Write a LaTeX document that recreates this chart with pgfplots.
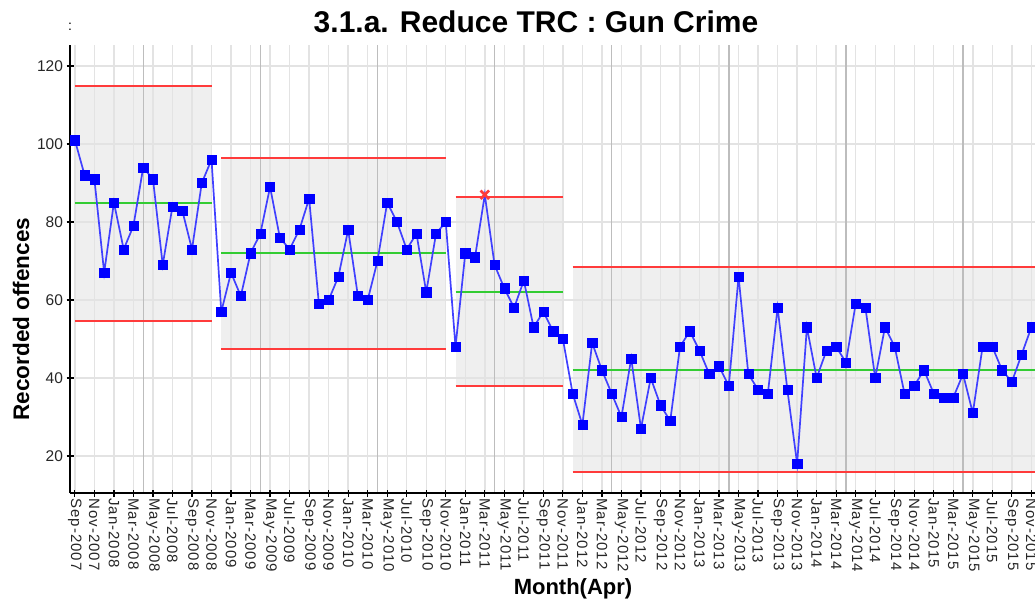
\documentclass[border=0pt]{standalone}
\usepackage{pgfplots}
\usepackage{pgfplotstable}
\pgfplotsset{compat=1.18}
\usepackage{fontspec}
\setmainfont{Liberation Sans}
\newfontfamily\tickfont[LetterSpace=7]{Liberation Sans}
\definecolor{ptblue}{HTML}{0000FF}
\definecolor{lnblue}{HTML}{4040FF}
\definecolor{uclred}{HTML}{FF3B3B}
\definecolor{meangreen}{HTML}{33CC33}
\definecolor{shade}{HTML}{EFEFEF}
\definecolor{lgrid}{HTML}{E3E3E3}
\definecolor{dgrid}{HTML}{BDBDBD}
\pgfplotstableread{
x y
0 101
1 92
2 91
3 67
4 85
5 73
6 79
7 94
8 91
9 69
10 84
11 83
12 73
13 90
14 96
15 57
16 67
17 61
18 72
19 77
20 89
21 76
22 73
23 78
24 86
25 59
26 60
27 66
28 78
29 61
30 60
31 70
32 85
33 80
34 73
35 77
36 62
37 77
38 80
39 48
40 72
41 71
42 87
43 69
44 63
45 58
46 65
47 53
48 57
49 52
50 50
51 36
52 28
53 49
54 42
55 36
56 30
57 45
58 27
59 40
60 33
61 29
62 48
63 52
64 47
65 41
66 43
67 38
68 66
69 41
70 37
71 36
72 58
73 37
74 18
75 53
76 40
77 47
78 48
79 44
80 59
81 58
82 40
83 53
84 48
85 36
86 38
87 42
88 36
89 35
90 35
91 41
92 31
93 48
94 48
95 42
96 39
97 46
98 53
}\gun
\begin{document}
\begin{tikzpicture}
\begin{axis}[
  at={(70pt,107pt)}, anchor=south west, scale only axis,
  width=976pt, height=448pt,
  xmin=-0.5, xmax=99.5, ymin=10.5, ymax=125.4,
  set layers=standard,
  axis lines=left,
  axis line style={-, line width=1.4pt, black},
  tick align=center, major tick length=7pt,
  tick style={black, line width=1.2pt},
  xtick={0,2,...,98},
  xticklabels={Sep-2007,Nov-2007,Jan-2008,Mar-2008,May-2008,Jul-2008,Sep-2008,Nov-2008,
    Jan-2009,Mar-2009,May-2009,Jul-2009,Sep-2009,Nov-2009,
    Jan-2010,Mar-2010,May-2010,Jul-2010,Sep-2010,Nov-2010,
    Jan-2011,Mar-2011,May-2011,Jul-2011,Sep-2011,Nov-2011,
    Jan-2012,Mar-2012,May-2012,Jul-2012,Sep-2012,Nov-2012,
    Jan-2013,Mar-2013,May-2013,Jul-2013,Sep-2013,Nov-2013,
    Jan-2014,Mar-2014,May-2014,Jul-2014,Sep-2014,Nov-2014,
    Jan-2015,Mar-2015,May-2015,Jul-2015,Sep-2015,Nov-2015},
  xticklabel style={rotate=-90, anchor=west, font=\tickfont\fontsize{15}{17}\selectfont, text=black!85, inner sep=1.5pt},
  ytick={20,40,...,120},
  yticklabel style={font=\fontsize{15.5}{18}\selectfont, text=black!85},
  /pgf/number format/assume math mode=true,
  grid=major,
  major grid style={draw=lgrid, line width=1.4pt},
  extra x ticks={7,19,31,43,55,67,79,91},
  extra x tick labels={},
  extra x tick style={grid=major, major grid style={draw=dgrid, line width=1.4pt}, major tick length=0pt},
]
% shaded control bands
\addplot[on layer=axis background, fill=shade, draw=none] coordinates {(0,54.6) (14,54.6) (14,115) (0,115)} -- cycle;
\addplot[on layer=axis background, fill=shade, draw=none] coordinates {(15,47.4) (38,47.4) (38,96.3) (15,96.3)} -- cycle;
\addplot[on layer=axis background, fill=shade, draw=none] coordinates {(39,37.9) (50,37.9) (50,86.4) (39,86.4)} -- cycle;
\addplot[on layer=axis background, fill=shade, draw=none] coordinates {(51,15.8) (99.5,15.8) (99.5,68.5) (51,68.5)} -- cycle;
% control limits
\addplot[uclred, line width=2pt] coordinates {(0,115) (14,115)};
\addplot[uclred, line width=2pt] coordinates {(0,54.6) (14,54.6)};
\addplot[uclred, line width=2pt] coordinates {(15,96.3) (38,96.3)};
\addplot[uclred, line width=2pt] coordinates {(15,47.4) (38,47.4)};
\addplot[uclred, line width=2pt] coordinates {(39,86.4) (50,86.4)};
\addplot[uclred, line width=2pt] coordinates {(39,37.9) (50,37.9)};
\addplot[uclred, line width=2pt] coordinates {(51,68.5) (99.5,68.5)};
\addplot[uclred, line width=2pt] coordinates {(51,15.8) (99.5,15.8)};
% means
\addplot[meangreen, line width=2pt] coordinates {(0,84.8) (14,84.8)};
\addplot[meangreen, line width=2pt] coordinates {(15,72.0) (38,72.0)};
\addplot[meangreen, line width=2pt] coordinates {(39,62.1) (50,62.1)};
\addplot[meangreen, line width=2pt] coordinates {(51,42.0) (99.5,42.0)};
% data
\addplot[lnblue, line width=1.7pt, mark=none] table[x=x,y=y] {\gun};
\addplot[only marks, mark=square*, mark size=4.6pt, mark options={fill=ptblue, draw=ptblue}, skip coords between index={42}{43}] table[x=x,y=y] {\gun};
\addplot[only marks, mark=x, mark size=6pt, mark options={draw=uclred, line width=2.6pt}] coordinates {(42,87)};
\end{axis}
\node at (70pt,573pt) {\fontsize{14}{16}\selectfont :};
\node at (536pt,578pt) {\fontsize{30}{34}\selectfont\bfseries 3.1.a. Reduce TRC : Gun Crime};
\node[rotate=90] at (21pt,281pt) {\fontsize{22.5}{26}\selectfont\bfseries Recorded offences};
\node at (573pt,11pt) {\fontsize{22}{26}\selectfont\bfseries Month(Apr)};
\pgfresetboundingbox
\useasboundingbox (0,0) rectangle (1035pt,600pt);
\end{tikzpicture}
\end{document}
